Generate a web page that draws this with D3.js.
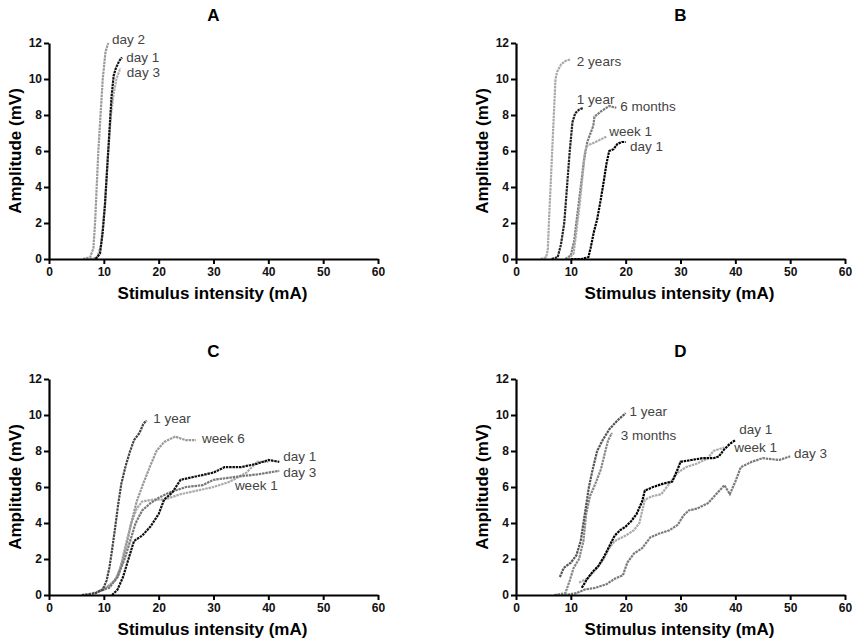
<!DOCTYPE html>
<html lang="en">
<head>
  <meta charset="UTF-8">
  <title>Stimulus-response curves</title>
  <script src="https://d3js.org/d3.v7.min.js"></script>
  <style>
    body { margin: 0; background: #fff; font-family: "Liberation Sans", Arial, sans-serif; }
    svg { display: block; }
    .tick text { font-size: 12px; font-weight: bold; fill: #111; }
    .label { font-size: 13.5px; fill: #444; }
  </style>
</head>
<body>
  <svg width="854" height="643"></svg>
  <script>
  // ---- data: [stimulus mA, amplitude mV] ----
  const xTicks = [0, 10, 20, 30, 40, 50, 60];
  const yTicks = [0, 2, 4, 6, 8, 10, 12];

  // Panel A
  const aDay2 = [[6.2,0],[7.5,0.1],[8.1,0.6],[8.4,2],[8.7,4],[9.0,6],[9.4,8],[9.8,10],[10.3,11.5],[10.8,12]];
  const aDay1 = [[8.5,0],[9.3,0.3],[9.8,1.5],[10.2,3],[10.6,5],[11.0,7],[11.4,9],[11.8,10.2],[12.2,10.6],[12.8,11],[13.3,11.2]];
  const aDay3 = [[7.5,0],[8.8,0.1],[9.5,0.8],[10.2,3],[10.7,5.5],[11.3,8],[11.8,9.2],[12.3,10],[13.0,10.6]];

  // Panel B
  const b2Years = [[4.5,0],[5.5,0.1],[5.8,0.5],[6.0,2],[6.3,4],[6.6,6],[6.9,8],[7.2,10],[7.5,10.4],[8.2,10.8],[9.0,11],[10.0,11.1]];
  const b1Year = [[6.5,0],[7.6,0.1],[8.2,0.8],[8.8,2],[9.3,4],[9.8,6],[10.3,7.6],[10.8,8.1],[11.5,8.3],[12.3,8.4]];
  const b6Months = [[9,0],[10,0.2],[10.6,1],[11.2,2.5],[11.8,4],[12.4,5.5],[13,6.5],[13.6,7],[14.1,7.4],[14.3,7.9],[15.5,8.2],[17,8.5],[18.3,8.4]];
  const bWeek1 = [[9.5,0],[10.5,0.3],[11.0,1.5],[11.6,3],[12.1,4.5],[12.6,6],[13,6.3],[14.5,6.5],[16.5,6.8]];
  const bDay1 = [[10,0],[12,0],[13.2,0.1],[13.6,0.6],[14.2,1.5],[14.8,2.2],[15.4,3.2],[16,4.3],[16.5,5.3],[17,6],[17.8,6.1],[18.5,6.4],[19.3,6.5],[20,6.5]];

  // Panel C
  const c1Year = [[6,0],[8.5,0.1],[9.8,0.3],[10.5,0.8],[11,1.5],[11.5,2.5],[12,3.6],[12.6,5],[13.2,6.2],[14,7.2],[14.8,8],[15.5,8.6],[16.5,9],[17.2,9.5],[17.8,9.7]];
  const cWeek6 = [[9,0.2],[11,0.5],[12.5,1],[13.5,2],[14.3,3],[15,4],[16,5.2],[17.2,6.2],[18.5,7.2],[19.6,8],[21,8.5],[23,8.8],[25,8.6],[26.8,8.6]];
  const cDay1 = [[11.5,0],[12.5,0.3],[13.5,1],[14.5,2],[15.5,3],[17,3.3],[18.5,3.8],[20,4.5],[21,5.3],[22.5,5.7],[24,6.4],[27,6.6],[30,6.8],[32,7.1],[35,7.1],[38,7.3],[40,7.5],[42,7.4]];
  const cDay3 = [[9,0.2],[11,0.4],[12.5,1],[13.8,2],[14.8,3],[15.8,4],[17,4.7],[18.5,5.1],[20,5.4],[22,5.7],[25,6],[28,6.1],[30,6.4],[35,6.6],[38,6.7],[42,6.9]];
  const cWeek1 = [[8,0.1],[10,0.3],[12,0.8],[13,1.5],[14,2.8],[15,4],[16,4.8],[17,5.2],[19,5.3],[21,5.3],[24,5.6],[27,5.8],[30,6],[33,6.3],[36,6.8],[38,7.4],[40,7.4]];

  // Panel D
  const d1Year = [[8,1],[8.7,1.5],[10,1.8],[11,2.2],[11.8,3],[12.3,4],[12.8,5],[13.3,6],[14,7],[14.8,8],[15.8,8.6],[17,9.2],[18.5,9.7],[20,10.1]];
  const d3Months = [[7,0],[9,0.1],[9.8,0.8],[10.5,1.5],[11.5,2],[12.3,3],[12.8,4.5],[13.5,5.5],[14.5,6.2],[15.5,7],[16.3,8],[16.8,8.6],[17.5,9]];
  const dDay1 = [[12,0.4],[13,0.9],[14,1.3],[15,1.6],[16,2.1],[17,2.7],[18,3.3],[19,3.6],[20,3.8],[21,4.1],[22,4.5],[23,5.2],[23.5,5.8],[25,6],[27,6.2],[28.5,6.3],[29.5,7],[30,7.4],[32,7.5],[34,7.6],[36,7.6],[37,7.7],[38,8.1],[39,8.4],[40,8.6]];
  const dWeek1 = [[11.5,0.7],[13,0.9],[14.5,1.4],[16,2],[17,2.6],[18,3],[20,3.3],[21.5,3.6],[22.5,4],[23.5,5.3],[25,5.5],[26.5,5.6],[28,6.2],[29.5,6.8],[31,7.1],[33,7.3],[35,7.6],[36,8],[38,8.2]];
  const dDay3 = [[7,0],[9,0],[11,0.1],[12.5,0.3],[14.5,0.4],[16.5,0.6],[18,0.9],[19.5,1.1],[20.3,1.8],[21.5,2.3],[23,2.6],[24.5,3.2],[26,3.4],[28,3.6],[29.5,3.9],[30.5,4.4],[31.5,4.7],[33,4.8],[35,5.1],[36.5,5.6],[38,6.1],[39,5.6],[40,6.3],[41,7.1],[43,7.4],[45,7.6],[48,7.5],[50,7.7]];

  // label anchors in data units [mA, mV]
  const panels = [
    { title: "A", x0: 49, y0: 43, series: [
      { name: "day 2", data: aDay2, color: "#9a9a9a", at: [11.5, 12.2] },
      { name: "day 3", data: aDay3, color: "#b0b0b0", at: [14.2, 10.4] },
      { name: "day 1", data: aDay1, color: "#111", at: [14.1, 11.2] }
    ]},
    { title: "B", x0: 516, y0: 43, series: [
      { name: "2 years", data: b2Years, color: "#a8a8a8", at: [11.1, 11.0] },
      { name: "6 months", data: b6Months, color: "#7a7a7a", at: [19.0, 8.5] },
      { name: "week 1", data: bWeek1, color: "#aaaaaa", at: [17.0, 7.1] },
      { name: "1 year", data: b1Year, color: "#222", at: [11.1, 8.9] },
      { name: "day 1", data: bDay1, color: "#000", at: [20.8, 6.25] }
    ]},
    { title: "C", x0: 49, y0: 379, series: [
      { name: "week 1", data: cWeek1, color: "#aaaaaa", at: [33.9, 6.1] },
      { name: "week 6", data: cWeek6, color: "#999999", at: [27.9, 8.7] },
      { name: "day 3", data: cDay3, color: "#777777", at: [42.7, 6.8] },
      { name: "day 1", data: cDay1, color: "#111", at: [42.7, 7.7] },
      { name: "1 year", data: c1Year, color: "#444", at: [19.0, 9.8] }
    ]},
    { title: "D", x0: 516, y0: 379, series: [
      { name: "day 3", data: dDay3, color: "#7a7a7a", at: [50.7, 7.9] },
      { name: "week 1", data: dWeek1, color: "#aaaaaa", at: [39.8, 8.2] },
      { name: "day 1", data: dDay1, color: "#000", at: [40.7, 9.2] },
      { name: "3 months", data: d3Months, color: "#888888", at: [19.1, 8.9] },
      { name: "1 year", data: d1Year, color: "#555", at: [20.7, 10.2] }
    ]}
  ];

  const w = 329, h = 216;
  const svg = d3.select("svg");

  panels.forEach(p => {
    const g = svg.append("g").attr("transform", `translate(${p.x0},${p.y0})`);
    const x = d3.scaleLinear().domain([0, 60]).range([0, w]);
    const y = d3.scaleLinear().domain([0, 12]).range([h, 0]);

    const line = d3.line().x(d => x(d[0])).y(d => y(d[1]));

    p.series.forEach(s => {
      g.append("path")
        .datum(s.data)
        .attr("fill", "none")
        .attr("stroke", s.color)
        .attr("stroke-width", 2.2)
        .attr("stroke-dasharray", "2.5,0.8")
        .attr("d", line);
      g.append("text")
        .attr("class", "label")
        .attr("x", x(s.at[0]))
        .attr("y", y(s.at[1]))
        .attr("dy", "0.35em")
        .text(s.name);
    });

    // axes
    const xAxis = g.append("g").attr("transform", `translate(0,${h})`)
      .call(d3.axisBottom(x).tickValues(xTicks).tickSize(5).tickSizeOuter(0).tickPadding(3));
    const yAxis = g.append("g")
      .call(d3.axisLeft(y).tickValues(yTicks).tickSize(5).tickSizeOuter(0).tickPadding(2));
    [xAxis, yAxis].forEach(a => {
      a.select(".domain").attr("stroke", "#000").attr("stroke-width", 2.2);
      a.selectAll(".tick line").attr("stroke", "#000").attr("stroke-width", 2);
    });

    // titles
    g.append("text")
      .attr("x", w / 2).attr("y", -22)
      .attr("text-anchor", "middle")
      .style("font-size", "17px").style("font-weight", "bold")
      .text(p.title);
    g.append("text")
      .attr("x", w / 2 - 1).attr("y", h + 40)
      .attr("text-anchor", "middle")
      .style("font-size", "17px").style("font-weight", "bold")
      .text("Stimulus intensity (mA)");
    g.append("text")
      .attr("transform", `translate(-28,${h / 2}) rotate(-90)`)
      .attr("text-anchor", "middle")
      .style("font-size", "17px").style("font-weight", "bold")
      .text("Amplitude (mV)");
  });
  </script>
</body>
</html>
